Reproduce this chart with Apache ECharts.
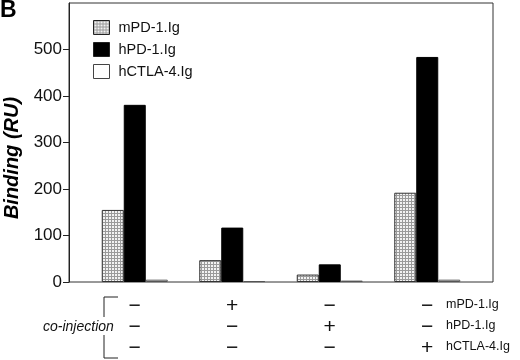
<!DOCTYPE html>
<html>
<head>
<meta charset="utf-8">
<script src="https://cdn.jsdelivr.net/npm/echarts@6/dist/echarts.min.js"></script>
<style>html,body{margin:0;padding:0;background:#fff}#c{width:520px;height:360px}</style>
</head>
<body>
<div id="c"></div>
<script>
// ---- data ----
const categories = ['control', '+mPD-1.Ig', '+hPD-1.Ig', '+hCTLA-4.Ig'];
const seriesNames = ['mPD-1.Ig', 'hPD-1.Ig', 'hCTLA-4.Ig'];
const mPD1 = [155, 47, 16, 192];
const hPD1 = [381, 117, 38, 484];
const hCTLA4 = [5, 2, 3, 5];
const coMPD1 = ['−', '+', '−', '−'];
const coHPD1 = ['−', '−', '+', '−'];
const coCTLA4 = ['−', '−', '−', '+'];
const yTicks = [0, 100, 200, 300, 400, 500, 600];

const FONT = '"Liberation Sans", Arial, Helvetica, sans-serif';

// stipple pattern
const pc = document.createElement('canvas');
pc.width = 3; pc.height = 3;
const px = pc.getContext('2d');
px.fillStyle = '#f2f2f2'; px.fillRect(0, 0, 3, 3);
px.fillStyle = '#9a9a9a'; px.fillRect(0, 0, 3, 1); px.fillRect(0, 0, 1, 3);
const stipple = { image: pc, repeat: 'repeat' };

const chart = echarts.init(document.getElementById('c'), null, { renderer: 'canvas' });

const styles = [
  { color: stipple, borderColor: '#333', borderWidth: 1 },
  { color: '#000', borderColor: '#000', borderWidth: 1 },
  { color: '#fff', borderColor: '#555', borderWidth: 1 }
];
const values = [mPD1, hPD1, hCTLA4];

const rowsY = [305, 326, 347];

chart.setOption({
  animation: false,
  textStyle: { fontFamily: FONT },
  grid: [
    { left: 69, top: 3, width: 424, height: 279, show: true, borderColor: '#333', borderWidth: 1, backgroundColor: 'transparent' },
    { left: 86, top: 3, width: 390, height: 279 }
  ],
  legend: {
    orient: 'vertical', left: 88, top: 15, itemWidth: 16, itemHeight: 14, itemGap: 7,
    icon: 'rect',
    textStyle: { fontFamily: FONT, fontSize: 14.5, color: '#111', padding: [0, 0, 0, 4] },
    data: seriesNames.map((n, i) => ({ name: n, itemStyle: { borderColor: i === 2 ? '#444' : '#222', borderWidth: 1 } }))
  },
  xAxis: [
    { gridIndex: 0, type: 'category', data: categories, show: false },
    {
      gridIndex: 1, type: 'category', data: categories,
      axisLine: { show: false }, axisTick: { show: false },
      axisLabel: {
        margin: 14, fontSize: 21, lineHeight: 21, color: '#111', fontFamily: FONT,
        formatter: (v, i) => [coMPD1[i], coHPD1[i], coCTLA4[i]].join('\n')
      }
    }
  ],
  yAxis: [
    {
      gridIndex: 0, type: 'value', min: yTicks[0], max: yTicks[yTicks.length - 1], interval: 100,
      axisLine: { show: true, lineStyle: { color: '#222', width: 1 } },
      axisTick: { show: true, inside: false, length: 6, lineStyle: { color: '#222' } },
      axisLabel: { margin: 7, fontSize: 17, color: '#111', fontFamily: FONT, showMaxLabel: false },
      splitLine: { show: false }
    },
    { gridIndex: 1, type: 'value', min: yTicks[0], max: yTicks[yTicks.length - 1], show: false, splitLine: { show: false } }
  ],
  series: seriesNames.map((n, i) => ({
    name: n, type: 'bar', xAxisIndex: 1, yAxisIndex: 1,
    barWidth: 22, barGap: '0%',
    itemStyle: styles[i],
    data: values[i]
  })),
  graphic: [
    { type: 'text', left: 0, top: -1, style: { text: 'B', font: 'bold 23px ' + FONT, fill: '#000' } },
    { type: 'text', x: 12, y: 158, rotation: Math.PI / 2,
      style: { text: 'Binding (RU)', font: 'italic bold 20px ' + FONT, fill: '#000', align: 'center', verticalAlign: 'middle' } },
    { type: 'text', x: 43, y: 327, style: { text: 'co-injection', font: 'italic 14px ' + FONT, fill: '#111', align: 'left', verticalAlign: 'middle' } },
    { type: 'polyline', shape: { points: [[118, 297], [104, 297], [104, 317]] }, style: { stroke: '#222', lineWidth: 1, fill: null } },
    { type: 'polyline', shape: { points: [[104, 335], [104, 358], [118, 358]] }, style: { stroke: '#222', lineWidth: 1, fill: null } }
  ].concat(seriesNames.map((n, i) => ({
    type: 'text', x: 446, y: rowsY[i],
    style: { text: n, font: '12.5px ' + FONT, fill: '#111', align: 'left', verticalAlign: 'middle' }
  })))
});
</script>
</body>
</html>
